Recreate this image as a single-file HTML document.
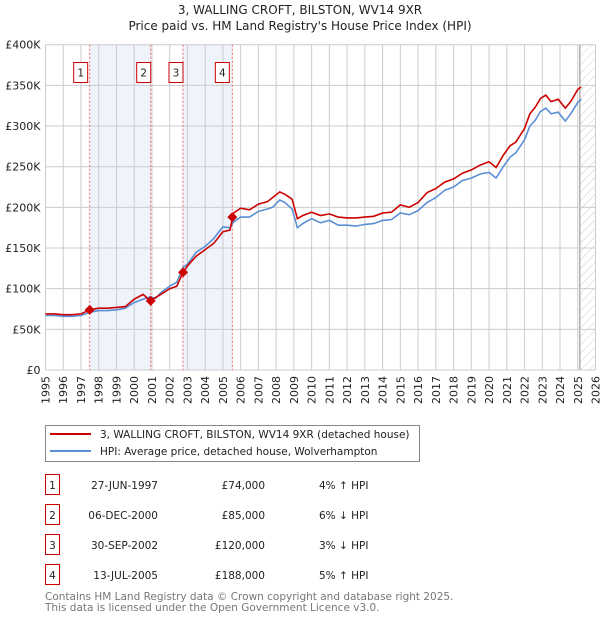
<!DOCTYPE html>
<html><head><meta charset="utf-8"><style>
body{margin:0;background:#fff;font-family:"Liberation Sans","DejaVu Sans",sans-serif;}
svg text{font-family:"DejaVu Sans","Liberation Sans",sans-serif;}
</style></head><body>
<svg id="c" width="600" height="620" xmlns="http://www.w3.org/2000/svg">
<defs><pattern id="hatch" width="6" height="6" patternUnits="userSpaceOnUse" patternTransform="rotate(45)"><line x1="0" y1="0" x2="0" y2="6" stroke="#ccc" stroke-width="1"/></pattern></defs>
<text x="300" y="14" text-anchor="middle" font-size="12" fill="#222">3, WALLING CROFT, BILSTON, WV14 9XR</text>
<text x="300" y="30" text-anchor="middle" font-size="12" fill="#222">Price paid vs. HM Land Registry's House Price Index (HPI)</text>
<g id="plot"></g>
<g>
<rect x="45.5" y="425.5" width="374" height="36" fill="#fff" stroke="#888"/>
<line x1="50" y1="434" x2="91" y2="434" stroke="#cc0000" stroke-width="2"/>
<text x="100" y="438" font-size="10.5" fill="#222">3, WALLING CROFT, BILSTON, WV14 9XR (detached house)</text>
<line x1="50" y1="451" x2="91" y2="451" stroke="#5b8fd4" stroke-width="2"/>
<text x="100" y="455" font-size="10.5" fill="#222">HPI: Average price, detached house, Wolverhampton</text>
</g>
<g id="table" font-size="10.5" fill="#222"></g>
<text x="45" y="600" font-size="10.5" fill="#777">Contains HM Land Registry data © Crown copyright and database right 2025.</text>
<text x="45" y="611" font-size="10.5" fill="#777">This data is licensed under the Open Government Licence v3.0.</text>
</svg>
<script>
const years=[1995,1995.5,1996,1996.5,1997,1997.5,1998,1998.5,1999,1999.5,2000,2000.5,2000.9,2001.2,2001.5,2002,2002.4,2002.75,2003,2003.5,2004,2004.5,2005,2005.4,2005.6,2006,2006.5,2007,2007.5,2007.8,2008.2,2008.5,2008.9,2009.2,2009.5,2010,2010.5,2011,2011.5,2012,2012.5,2013,2013.5,2014,2014.5,2015,2015.5,2016,2016.5,2017,2017.5,2018,2018.5,2019,2019.5,2020,2020.4,2020.8,2021.2,2021.5,2022,2022.3,2022.6,2022.9,2023.2,2023.5,2023.9,2024.3,2024.6,2025,2025.2];
const hpi=[67,67,66,66,67,71,73,73,74,76,83,87,90,88,95,103,108,126,130,145,152,162,176,175,182,188,188,195,198,200,209,206,198,175,180,186,181,184,178,178,177,179,180,184,185,193,191,196,206,212,221,225,233,236,241,243,236,250,262,267,283,300,307,318,322,315,317,306,315,329,333];
const price=[69,69,68,68,69,74,76,76,77,78,87,93,85,89,93,100,103,120,128,140,148,156,170,172,193,199,197,204,207,212,219,216,210,186,190,194,190,192,188,187,187,188,189,193,194,203,200,206,218,223,231,235,242,246,252,256,249,264,276,280,297,315,323,334,338,330,333,322,330,345,348];
const saleYears=[1997.49,2000.93,2002.75,2005.53];
const salePrices=[74000,85000,120000,188000];
const saleDates=["27-JUN-1997","06-DEC-2000","30-SEP-2002","13-JUL-2005"];
const saleLabels=["£74,000","£85,000","£120,000","£188,000"];
const saleDiffs=["4% ↑ HPI","6% ↓ HPI","3% ↓ HPI","5% ↑ HPI"];
const yTicks=[0,50,100,150,200,250,300,350,400];
const xTicks=[1995,1996,1997,1998,1999,2000,2001,2002,2003,2004,2005,2006,2007,2008,2009,2010,2011,2012,2013,2014,2015,2016,2017,2018,2019,2020,2021,2022,2023,2024,2025,2026];
const X0=45.5,X1=595.5,Y0=370,Y1=44.7;
const x=y=>X0+(y-1995)/31*(X1-X0);
const yv=v=>Y0-v/400*(Y0-Y1);
const NS="http://www.w3.org/2000/svg";
const plot=document.getElementById('plot');
function mk(tag,attrs,parent){const e=document.createElementNS(NS,tag);for(const k in attrs)e.setAttribute(k,attrs[k]);(parent||plot).appendChild(e);return e;}
// shaded periods
let s=mk('rect',{x:x(saleYears[0]),y:Y1,width:x(saleYears[1])-x(saleYears[0]),height:Y0-Y1,fill:'#eef3fc'});


s=mk('rect',{x:x(saleYears[2]),y:Y1,width:x(saleYears[3])-x(saleYears[2]),height:Y0-Y1,fill:'#eef3fc'});


let h=mk('rect',{x:x(2025.12),y:Y1,width:X1-x(2025.12),height:Y0-Y1,fill:'url(#hatch)'});


mk('line',{x1:x(2025.12),x2:x(2025.12),y1:Y1,y2:Y0,stroke:'#888','stroke-width':1});
// grid
xTicks.forEach(t=>{const g=mk('line',{x1:x(t),x2:x(t),y1:Y1,y2:Y0,stroke:'#ccc','stroke-width':1});


const tx=mk('text',{x:0,y:0,'font-size':11,fill:'#222','text-anchor':'end',transform:`translate(${x(t)+4},${Y0+6}) rotate(-90)`});tx.textContent=t;

});
yTicks.forEach(t=>{const g=mk('line',{x1:X0,x2:X1,y1:yv(t),y2:yv(t),stroke:'#ccc','stroke-width':1});


const tx=mk('text',{x:X0-5,y:yv(t)+4,'font-size':11,fill:'#222','text-anchor':'end'});tx.textContent=t===0?'£0':'£'+t+'K';

});
// sale lines & boxes
saleYears.forEach((sy,i)=>{const l=mk('line',{x1:x(sy),x2:x(sy),y1:Y1,y2:Y0,stroke:'#ee6666','stroke-dasharray':'2,2','stroke-width':1});


const bx=x(sy)-(i===3?0:11)-7+(i===3?-2:4);
const b=mk('rect',{x:x(sy)-14+(i===3?-3:0)+(i==0?-2:0),y:62.5,width:14,height:20,fill:'#fff',stroke:'#cc0000'});


const t=mk('text',{x:+b.getAttribute('x')+7,y:76.5,'font-size':10.5,fill:'#222','text-anchor':'middle'});t.textContent=i+1;});
// lines
const path=(arr)=>arr.map((v,i)=>(i?'L':'M')+x(years[i]).toFixed(1)+','+yv(v).toFixed(1)).join('');
let p=mk('path',{d:path(hpi),fill:'none',stroke:'#5b8fd4','stroke-width':1.6});


p=mk('path',{d:path(price),fill:'none',stroke:'#cc0000','stroke-width':1.6});


saleYears.forEach((sy,i)=>{const cx=x(sy),cy=yv(salePrices[i]/1000);
const d=mk('path',{d:`M${cx},${cy-5}L${cx+5},${cy}L${cx},${cy+5}L${cx-5},${cy}Z`,fill:'#cc0000'});

});
// table
const tb=document.getElementById('table');
saleDates.forEach((sd,i)=>{const yy=485+i*30;
const r=mk('rect',{x:45.5,y:yy-10.5,width:14,height:20,fill:'#fff',stroke:'#cc0000'},tb);


let t=mk('text',{x:52.5,y:yy+4,'text-anchor':'middle'},tb);t.textContent=i+1;
t=mk('text',{x:158,y:yy+4,'text-anchor':'end'},tb);t.textContent=sd;


t=mk('text',{x:265,y:yy+4,'text-anchor':'end'},tb);t.textContent=saleLabels[i];


t=mk('text',{x:319,y:yy+4},tb);t.textContent=saleDiffs[i];

});
</script>
</body></html>
